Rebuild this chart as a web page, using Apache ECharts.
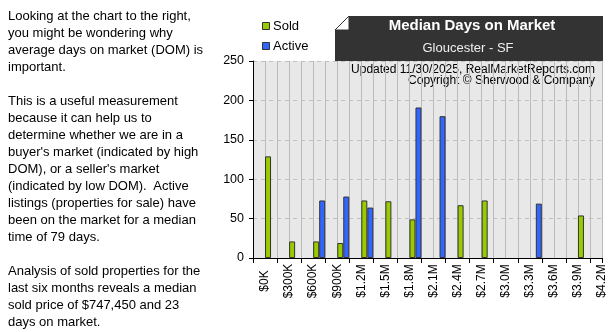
<!DOCTYPE html>
<html>
<head>
<meta charset="utf-8">
<script src="https://cdn.jsdelivr.net/npm/echarts@6/dist/echarts.min.js"></script>
<style>
html, body { margin: 0; padding: 0; background: #fff; }
#chart { position: absolute; left: 0; top: 0; width: 609px; height: 332px; }
#txt { position: absolute; left: 8px; top: 7px; font-family: "Liberation Sans", Arial, sans-serif; font-size: 13px; line-height: 17px; color: #000; white-space: pre; }
</style>
</head>
<body>
<div id="chart"></div>
<div id="txt">Looking at the chart to the right,
you might be wondering why
average days on market (DOM) is
important.

This is a useful measurement
because it can help us to
determine whether we are in a
buyer's market (indicated by high
DOM), or a seller's market
(indicated by low DOM).  Active
listings (properties for sale) have
been on the market for a median
time of 79 days.

Analysis of sold properties for the
last six months reveals a median
sold price of $747,450 and 23
days on market.</div>
<script>
const categories = ['$0K','$300K','$600K','$900K','$1.2M','$1.5M','$1.8M','$2.1M','$2.4M','$2.7M','$3.0M','$3.3M','$3.6M','$3.9M','$4.2M'];
const soldDays   = [129, 21, 21, 19, 73, 72, 49, 0, 67, 73, 0, 0, 0, 54, 0];
const activeDays = [0, 0, 73, 78, 64, 0, 191, 180, 0, 0, 0, 69, 0, 0, 0];
const yTicks = [0, 50, 100, 150, 200, 250];

// x axis in half-bin units: category i sits at 1 + 2*i
const soldData = [], activeData = [];
soldDays.forEach((v, i) => { if (v > 0) soldData.push([1 + 2 * i + 0.25, v]); });
activeDays.forEach((v, i) => { if (v > 0) activeData.push([1 + 2 * i + 0.75, v]); });

const FONT = '"Liberation Sans", Arial, sans-serif';
const chart = echarts.init(document.getElementById('chart'), null, { renderer: 'canvas' });
chart.setOption({
  animation: false,
  backgroundColor: '#fff',
  grid: { left: 253, top: 61, width: 349, height: 197, show: true, backgroundColor: '#E8E8E8', borderWidth: 0, containLabel: false },
  xAxis: [
    {
      type: 'value', min: 0, max: 2 * categories.length - 1, interval: 1,
      axisLine: { show: true, lineStyle: { color: '#000', width: 1 } },
      axisTick: { show: false },
      splitLine: { show: true, lineStyle: { color: '#BBBBBB', width: 1, type: 'solid' } },
      axisLabel: {
        show: true, rotate: 90, margin: 6, fontSize: 12, color: '#000', fontFamily: FONT,
        showMinLabel: true, showMaxLabel: true,
        formatter: function (v) {
          if (v % 2 === 1) return '{c|' + categories[(v - 1) / 2] + '}';
          return '';
        },
        rich: { c: { width: 34, align: 'center', fontSize: 12, fontFamily: FONT, color: '#000' } }
      }
    },
    {
      type: 'value', min: 0, max: 2 * categories.length - 1, interval: 2, position: 'bottom',
      axisLine: { show: true, lineStyle: { color: '#000', width: 1 } },
      axisTick: { show: true, length: 5, lineStyle: { color: '#000', width: 1 } },
      splitLine: { show: false },
      axisLabel: { show: false }
    }
  ],
  yAxis: {
    type: 'value', min: yTicks[0], max: yTicks[yTicks.length - 1], interval: 50,
    axisLine: { show: true, lineStyle: { color: '#000', width: 1 } },
    axisTick: { show: true, length: 4, lineStyle: { color: '#000' } },
    axisLabel: { fontSize: 12.5, color: '#000', fontFamily: FONT, margin: 9 },
    splitLine: { show: true, lineStyle: { color: '#C0C0C0', type: [4, 4], width: 1 } }
  },
  series: [
    { name: 'Sold', type: 'bar', xAxisIndex: 0, data: soldData, barWidth: 6, barGap: '-100%',
      itemStyle: { color: '#99CC00', borderColor: '#333', borderWidth: 1 } },
    { name: 'Active', type: 'bar', xAxisIndex: 0, data: activeData, barWidth: 6, barGap: '-100%',
      itemStyle: { color: '#3366FF', borderColor: '#333', borderWidth: 1 } }
  ],
  graphic: [
    { type: 'polygon', shape: { points: [[349, 16], [603, 16], [603, 61], [335, 61], [335, 30]] }, style: { fill: '#333333' } },
    { type: 'polygon', shape: { points: [[335, 30], [349, 16], [349, 30]] }, style: { fill: '#ffffff', stroke: '#333', lineWidth: 1 } },
    { type: 'text', x: 472, y: 26, style: { text: 'Median Days on Market', fill: '#fff', font: 'bold 15px ' + FONT, align: 'center', verticalAlign: 'middle' } },
    { type: 'text', x: 468, y: 48, style: { text: 'Gloucester - SF', fill: '#eeeeee', font: '13px ' + FONT, align: 'center', verticalAlign: 'middle' } },
    { type: 'text', x: 595, y: 70, style: { text: 'Updated 11/30/2025, RealMarketReports.com', fill: '#000', font: '12px ' + FONT, align: 'right', verticalAlign: 'middle' } },
    { type: 'text', x: 595, y: 81, style: { text: 'Copyright \u00A9 Sherwood & Company', fill: '#000', font: '12px ' + FONT, align: 'right', verticalAlign: 'middle' } },
    { type: 'rect', shape: { x: 262.5, y: 22.5, width: 7, height: 7 }, style: { fill: '#99CC00', stroke: '#333', lineWidth: 1 } },
    { type: 'text', x: 273, y: 26, style: { text: 'Sold', fill: '#000', font: '13px ' + FONT, align: 'left', verticalAlign: 'middle' } },
    { type: 'rect', shape: { x: 262.5, y: 42.5, width: 7, height: 7 }, style: { fill: '#3366FF', stroke: '#333', lineWidth: 1 } },
    { type: 'text', x: 273, y: 46, style: { text: 'Active', fill: '#000', font: '13px ' + FONT, align: 'left', verticalAlign: 'middle' } }
  ]
});
</script>
</body>
</html>
